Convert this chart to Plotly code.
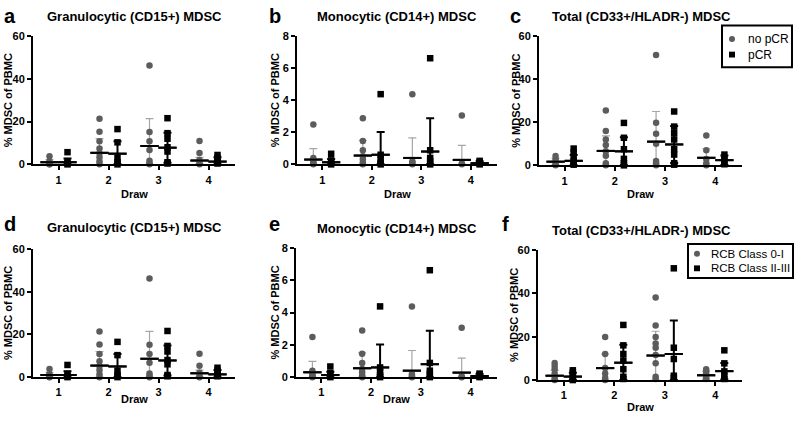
import plotly.graph_objects as go

W, H = 794, 422
FONT = "Arial, Liberation Sans, Helvetica, sans-serif"

draws = [1, 2, 3, 4]
draw_labels = ["1", "2", "3", "4"]

# ---------------- data ----------------
# Granulocytic (CD15+) MDSC, % of PBMC  (panels a and d)
gran_g1_pts = [[3.8, 1.5, 0.8, 0.3, 0.1, 0.0],
               [21.4, 15.3, 10.8, 7.4, 5.2, 3.3, 1.4, 0.0],
               [46.2, 15.2, 10.8, 6.7, 1.7, 0.5, 0.0],
               [10.9, 5.3, 2.1, 0.6, 0.0]]
gran_g1_mean = [1.0, 5.4, 8.6, 1.8]
gran_g1_sd = [1.2, 6.6, 12.8, 1.5]
gran_g2_pts = [[5.7, 1.5, 0.5, 0.0],
               [16.5, 10.3, 3.0, 1.0, 0.0],
               [21.6, 14.6, 12.0, 8.0, 6.0, 1.0, 0.4],
               [4.4, 3.0, 2.0, 1.0, 0.4]]
gran_g2_mean = [1.0, 5.0, 7.8, 1.3]
gran_g2_sd = [1.8, 5.8, 7.0, 2.0]

# Monocytic (CD14+) MDSC (panels b and e)
mono_g1_pts = [[2.48, 0.4, 0.25, 0.1, 0.05, 0.0],
               [2.88, 1.45, 0.88, 0.5, 0.3, 0.1, 0.0],
               [4.38, 0.2, 0.1, 0.0],
               [3.05, 0.05, 0.0]]
mono_g1_mean = [0.3, 0.55, 0.4, 0.28]
mono_g1_sd = [0.68, 0.95, 1.25, 0.9]
mono_g2_pts = [[0.66, 0.25, 0.1, 0.0],
               [4.38, 0.6, 0.3, 0.1, 0.0],
               [6.62, 0.88, 0.4, 0.2, 0.0],
               [0.22, 0.15, 0.1, 0.05, 0.0]]
mono_g2_mean = [0.13, 0.6, 0.8, 0.07]
mono_g2_sd = [0.2, 1.42, 2.07, 0.12]

# Total (CD33+/HLADR-) MDSC, by pCR (panel c)
tot_pcr_g1_pts = [[4.3, 2.8, 1.5, 0.5, 0.0],
                  [25.5, 16.0, 12.0, 9.5, 6.5, 4.5, 1.0, 0.0],
                  [51.2, 19.8, 14.7, 10.0, 2.0, 1.0, 0.0],
                  [13.8, 7.0, 3.0, 1.0, 0.0]]
tot_pcr_g1_mean = [1.7, 6.7, 11.0, 3.5]
tot_pcr_g1_sd = [1.5, 7.0, 14.0, 4.2]
tot_pcr_g2_pts = [[7.8, 6.0, 4.0, 2.0, 1.0, 0.3],
                  [19.7, 12.8, 7.5, 3.0, 1.0, 0.0],
                  [25.0, 18.0, 15.0, 12.0, 7.5, 5.0, 1.0, 0.3],
                  [5.0, 3.2, 2.0, 0.5]]
tot_pcr_g2_mean = [2.1, 6.5, 9.7, 2.4]
tot_pcr_g2_sd = [2.7, 6.6, 8.6, 2.2]

# Total (CD33+/HLADR-) MDSC, by RCB class (panel f)
tot_rcb_g1_pts = [[7.8, 6.5, 5.0, 3.0, 1.0, 0.0],
                  [19.8, 12.0, 5.5, 3.0, 1.0, 0.0],
                  [38.0, 25.1, 19.8, 16.9, 14.9, 11.6, 7.7, 1.5, 0.5],
                  [5.0, 4.0, 3.0, 2.0, 1.0, 0.5]]
tot_rcb_g1_mean = [2.0, 5.5, 11.3, 2.2]
tot_rcb_g1_sd = [2.5, 6.5, 11.2, 1.8]
tot_rcb_g2_pts = [[4.5, 3.5, 2.0, 1.0, 0.0],
                  [25.4, 16.0, 12.0, 9.0, 5.0, 1.5, 0.5],
                  [51.5, 14.9, 9.7, 2.0, 1.0],
                  [13.7, 7.7, 4.0, 2.0, 0.5]]
tot_rcb_g2_mean = [1.6, 8.0, 12.0, 4.1]
tot_rcb_g2_sd = [1.8, 8.3, 15.5, 3.8]

pcr_names = ["no pCR", "pCR"]
rcb_names = ["RCB Class 0-I", "RCB Class II-III"]

titles = ["Granulocytic (CD15+) MDSC", "Monocytic (CD14+) MDSC", "Total (CD33+/HLADR-) MDSC",
          "Granulocytic (CD15+) MDSC", "Monocytic (CD14+) MDSC", "Total (CD33+/HLADR-) MDSC"]
panel_letters = ["a", "b", "c", "d", "e", "f"]
y_title = "% MDSC of PBMC"
x_title = "Draw"
y_ticks_big = [0, 20, 40, 60]
y_ticks_small = [0, 2, 4, 6, 8]

# ---------------- layout helpers (pixels) ----------------
def fx(px):
    return px / W

def fy(py):
    return 1 - py / H

# plot areas in px: (x0, x1, ytop, ybottom)
areas = [(33, 235, 31, 163), (297, 497, 31, 163), (539, 742, 31, 164),
         (33, 235, 250, 382), (296, 497, 249, 382), (538, 742, 251, 385)]
title_pos = [(134, 11), (397, 11), (641, 11), (134, 228), (397, 229), (641, 231)]
letter_pos = [(5, 10), (270, 10), (511, 10), (5, 224), (270, 224), (503, 224)]
ytitle_x = [8, 275, 516, 8, 275, 514]
draw_y = [193, 193, 193, 405, 404, 413]

GREY = "#5c5c5c"
GREY_ERR = "#a6a6a6"
OFF = 0.18

panels = [
    (gran_g1_pts, gran_g1_mean, gran_g1_sd, gran_g2_pts, gran_g2_mean, gran_g2_sd, 60),
    (mono_g1_pts, mono_g1_mean, mono_g1_sd, mono_g2_pts, mono_g2_mean, mono_g2_sd, 8),
    (tot_pcr_g1_pts, tot_pcr_g1_mean, tot_pcr_g1_sd, tot_pcr_g2_pts, tot_pcr_g2_mean, tot_pcr_g2_sd, 60),
    (gran_g1_pts, gran_g1_mean, gran_g1_sd, gran_g2_pts, gran_g2_mean, gran_g2_sd, 60),
    (mono_g1_pts, mono_g1_mean, mono_g1_sd, mono_g2_pts, mono_g2_mean, mono_g2_sd, 8),
    (tot_rcb_g1_pts, tot_rcb_g1_mean, tot_rcb_g1_sd, tot_rcb_g2_pts, tot_rcb_g2_mean, tot_rcb_g2_sd, 60),
]

fig = go.Figure()
layout = dict(width=W, height=H, margin=dict(l=0, r=0, t=0, b=0),
              paper_bgcolor="white", plot_bgcolor="white", showlegend=False,
              font=dict(family=FONT, color="black"))
annotations = []
shapes = []

for i, (p1, m1, s1, p2, m2, s2, ymax) in enumerate(panels):
    n = "" if i == 0 else str(i + 1)
    xa, ya = "x" + n, "y" + n
    x0, x1, yt, yb = areas[i]
    layout["xaxis" + n] = dict(domain=[fx(x0), fx(x1)], range=[0.49, 4.53], anchor=ya,
                               tickvals=draws, ticktext=draw_labels, showline=True, linecolor="black",
                               linewidth=2, ticks="outside", ticklen=4, tickwidth=2, tickcolor="black",
                               showgrid=False, zeroline=False, fixedrange=True,
                               tickfont=dict(size=11, family=FONT, weight="bold"))
    layout["yaxis" + n] = dict(domain=[fy(yb), fy(yt)], range=[0, ymax], anchor=xa,
                               tickvals=y_ticks_big if ymax == 60 else y_ticks_small,
                               showline=True, linecolor="black", linewidth=2, ticks="outside",
                               ticklen=4, tickwidth=2, tickcolor="black", showgrid=False,
                               zeroline=False, fixedrange=True,
                               tickfont=dict(size=11, family=FONT, weight="bold"))
    groups = [(p1, m1, s1, -OFF, GREY, "circle", GREY_ERR, 1.2),
              (p2, m2, s2, OFF, "black", "square", "black", 2)]
    for pts, mean, sd, off, col, sym, ecol, eth in groups:
        xm = [d + off for d in draws]
        # error bars (mean +/- SD, cut at the axis)
        fig.add_trace(go.Scatter(
            x=xm, y=mean, xaxis=xa, yaxis=ya, mode="markers",
            marker=dict(symbol="line-ew", size=13, color="black", line=dict(width=2, color="black")),
            error_y=dict(type="data", symmetric=False, array=sd,
                         arrayminus=[min(s, m) for s, m in zip(sd, mean)],
                         color=ecol, thickness=eth, width=4),
            showlegend=False, hoverinfo="skip", cliponaxis=False))
        xs, ys = [], []
        for d, vals in zip(draws, pts):
            xs += [d + off] * len(vals)
            ys += vals
        fig.add_trace(go.Scatter(
            x=xs, y=ys, xaxis=xa, yaxis=ya, mode="markers",
            marker=dict(symbol=sym, size=6.5, color=col, line=dict(width=0)),
            cliponaxis=False, hoverinfo="y", showlegend=False))
        # mean line on top
        fig.add_trace(go.Scatter(
            x=xm, y=mean, xaxis=xa, yaxis=ya, mode="markers",
            marker=dict(symbol="line-ew", size=13, color="black", line=dict(width=2, color="black")),
            showlegend=False, hoverinfo="skip", cliponaxis=False))

    tx, ty = title_pos[i]
    annotations.append(dict(text=titles[i], x=fx(tx), y=fy(ty), xref="paper", yref="paper",
                            showarrow=False, xanchor="center", yanchor="middle",
                            font=dict(size=13, family=FONT, weight="bold")))
    lx, ly = letter_pos[i]
    annotations.append(dict(text=panel_letters[i], x=fx(lx - 3), y=fy(ly), xref="paper", yref="paper",
                            showarrow=False, xanchor="left", yanchor="middle",
                            font=dict(size=20, family=FONT, weight="bold")))
    annotations.append(dict(text=y_title, x=fx(ytitle_x[i]), y=fy((yt + yb) / 2), xref="paper",
                            yref="paper", showarrow=False, textangle=-90, xanchor="center",
                            yanchor="middle", font=dict(size=11, family=FONT, weight="bold")))
    annotations.append(dict(text=x_title, x=fx((x0 + x1) / 2), y=fy(draw_y[i]), xref="paper",
                            yref="paper", showarrow=False, xanchor="center", yanchor="middle",
                            font=dict(size=11, family=FONT, weight="bold")))

# ---------------- legends (box, symbols and labels) ----------------
legends = [
    dict(names=pcr_names, box=(722, 792, 20, 63), sym_x=732, txt_x=746, rows=(34, 50), size=12),
    dict(names=rcb_names, box=(688, 793, 245, 280), sym_x=697, txt_x=709, rows=(255, 270), size=11.5),
]
for lg in legends:
    bx0, bx1, by0, by1 = lg["box"]
    shapes.append(dict(type="rect", xref="paper", yref="paper", x0=fx(bx0), x1=fx(bx1),
                       y0=fy(by1), y1=fy(by0), line=dict(color="black", width=2),
                       fillcolor="white", layer="above"))
    for k, (name, ry) in enumerate(zip(lg["names"], lg["rows"])):
        r = 3
        sx = lg["sym_x"]
        shapes.append(dict(type="circle" if k == 0 else "rect", xref="paper", yref="paper",
                           x0=fx(sx - r), x1=fx(sx + r), y0=fy(ry + r), y1=fy(ry - r),
                           line=dict(width=0), fillcolor=GREY if k == 0 else "black",
                           layer="above"))
        annotations.append(dict(text=name, x=fx(lg["txt_x"]), y=fy(ry), xref="paper", yref="paper",
                                showarrow=False, xanchor="left", yanchor="middle",
                                font=dict(size=lg["size"], family=FONT)))

layout["annotations"] = annotations
layout["shapes"] = shapes
fig.update_layout(**layout)
fig.write_html("out.html", config={"displayModeBar": False},
               post_script="document.body.style.margin='0px';")
